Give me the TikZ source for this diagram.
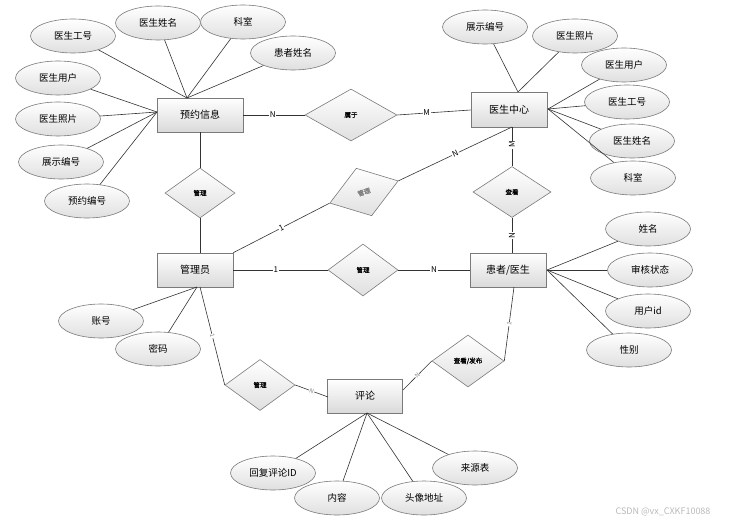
\documentclass[tikz,border=0pt]{standalone}
\usepackage{fontspec}
\setmainfont{Noto Sans CJK SC}
\usetikzlibrary{shapes.geometric,calc}
\definecolor{edgegray}{HTML}{7A7A7A}
\definecolor{linegray}{HTML}{333333}
\definecolor{shadegray}{HTML}{DADADA}
\tikzset{
  ent/.style={draw=edgegray, line width=0.7pt, top color=white, bottom color=shadegray,
    minimum width=76pt, minimum height=34pt, inner sep=0pt, font=\fontsize{10}{11}\selectfont},
  attr/.style={ellipse, draw=edgegray, line width=0.6pt, top color=white, bottom color=shadegray!85,
    minimum width=85pt, minimum height=34pt, inner sep=0pt, font=\fontsize{9.5}{10}\selectfont},
  rel/.style={diamond, draw=edgegray, line width=0.6pt, top color=white, bottom color=shadegray!85,
    minimum width=70pt, minimum height=51pt, inner sep=0pt,
    font=\fontsize{6.5}{7}\selectfont\addfontfeatures{FakeBold=1.2}},
  ln/.style={draw=linegray, line width=0.6pt},
  card/.style={fill=white, inner sep=0.8pt, font=\fontsize{8}{9}\selectfont},
  tinycard/.style={fill=white, inner sep=0.5pt, text=gray, font=\fontsize{6}{6}\selectfont}
}
\begin{document}
\begin{tikzpicture}[x=1pt,y=-1pt]
\useasboundingbox (0,0) rectangle (733,524);

% entities
\node[ent, minimum width=86pt] (yy) at (200,115) {预约信息};
\node[ent, minimum height=35pt] (ys) at (509,110) {医生中心};
\node[ent] (gl) at (195,270) {管理员};
\node[ent] (hz) at (508,270) {患者/医生};
\node[ent, minimum width=75pt] (pl) at (365,396) {评论};

% relations
\node[rel, minimum width=92pt, minimum height=52pt] (r1) at (351,115) {属于};
\node[rel, minimum height=50pt] (r2) at (200,193) {管理};
\node[rel, minimum width=72pt, minimum height=50pt, rotate=18, text=gray] (r3) at (364,192) {管理};
\node[rel, minimum width=78pt] (r4) at (512,192) {查看};
\node[rel, minimum height=52pt] (r5) at (363,270) {管理};
\node[rel] (r6) at (260,385) {管理};
\node[rel, minimum width=72pt, minimum height=52pt] (r7) at (468,361) {查看/发布};

% connection points
\coordinate (yyT) at (187,98);
\coordinate (yyL) at (157,112);
\coordinate (ysT) at (518,92);
\coordinate (ysR) at (548,109);
\coordinate (ysB) at (512,127);
\coordinate (hzR) at (547,270);
\coordinate (hzB) at (514,287);
\coordinate (glB) at (197,287);
\coordinate (glB2) at (200,287);
\coordinate (plB) at (367,413);
\coordinate (plL) at (328,397);
\coordinate (plR) at (403,390);

% relationship connectors
\draw[ln] (yy.east) -- node[card, pos=0.48]{N} (r1.west);
\draw[ln] (r1.east) -- node[card, pos=0.4]{M} (ys.west);
\draw[ln] (yy.south) -- (r2.north);
\draw[ln] (r2.south) -- (r2.south |- gl.north);
\draw[ln] (gl.north east) -- node[card, sloped, pos=0.5]{1} (r3.west);
\draw[ln] (r3.east) -- node[card, sloped, pos=0.5]{N} (ysB);
\draw[ln] (ysB) -- node[card, rotate=90, pos=0.45]{M} (r4.north);
\draw[ln] (r4.south) -- node[card, rotate=90, pos=0.5]{N} (r4.south |- hz.north);
\draw[ln] (gl.east) -- node[card, pos=0.45]{1} (r5.west);
\draw[ln] (r5.east) -- node[card, pos=0.5]{N} (hz.west);
\draw[ln] (glB2) -- node[tinycard, sloped, pos=0.5]{1} (r6.west);
\draw[ln] (r6.east) -- node[tinycard, sloped, pos=0.5]{N} (plL);
\draw[ln] (plR) -- node[tinycard, sloped, pos=0.5]{N} (r7.west);
\draw[ln] (r7.east) -- node[tinycard, sloped, pos=0.5]{1} (hzB);

% attributes of 预约信息
\node[attr] (a1) at (73,36) {医生工号};
\node[attr] (a2) at (158,23) {医生姓名};
\node[attr] (a3) at (243,22) {科室};
\node[attr] (a4) at (293,53) {患者姓名};
\node[attr] (a5) at (58,78) {医生用户};
\node[attr] (a6) at (58,119) {医生照片};
\node[attr] (a7) at (61,162) {展示编号};
\node[attr] (a8) at (87,201) {预约编号};
\foreach \n in {a1,a2,a3,a4} \draw[ln] (\n) -- (yyT);
\foreach \n in {a5,a6,a7,a8} \draw[ln] (\n) -- (yyL);

% attributes of 医生中心
\node[attr] (b1) at (485,27) {展示编号};
\node[attr] (b2) at (575,36) {医生照片};
\node[attr] (b3) at (624,65) {医生用户};
\node[attr] (b4) at (627,102) {医生工号};
\node[attr] (b5) at (632,141) {医生姓名};
\node[attr] (b6) at (633,178) {科室};
\foreach \n in {b1,b2} \draw[ln] (\n) -- (ysT);
\foreach \n in {b3,b4,b5,b6} \draw[ln] (\n) -- (ysR);

% attributes of 患者/医生
\node[attr] (c1) at (648,229) {姓名};
\node[attr] (c2) at (650,270) {审核状态};
\node[attr] (c3) at (648,311) {用户id};
\node[attr] (c4) at (629,350) {性别};
\foreach \n in {c1,c2,c3,c4} \draw[ln] (\n) -- (hzR);

% attributes of 管理员
\node[attr] (d1) at (101,321) {账号};
\node[attr] (d2) at (158,349) {密码};
\foreach \n in {d1,d2} \draw[ln] (\n) -- (glB);

% attributes of 评论
\node[attr] (e1) at (273,473) {回复评论ID};
\node[attr] (e2) at (337,498) {内容};
\node[attr] (e3) at (424,498) {头像地址};
\node[attr] (e4) at (475,468) {来源表};
\foreach \n in {e1,e2,e3,e4} \draw[ln] (\n) -- (plB);

% watermark
\node[text=gray!55, font=\fontsize{9}{10}\selectfont, anchor=east] (wm) at (714,512) {CSDN @vx\_CXKF10088};
\end{tikzpicture}
\end{document}
